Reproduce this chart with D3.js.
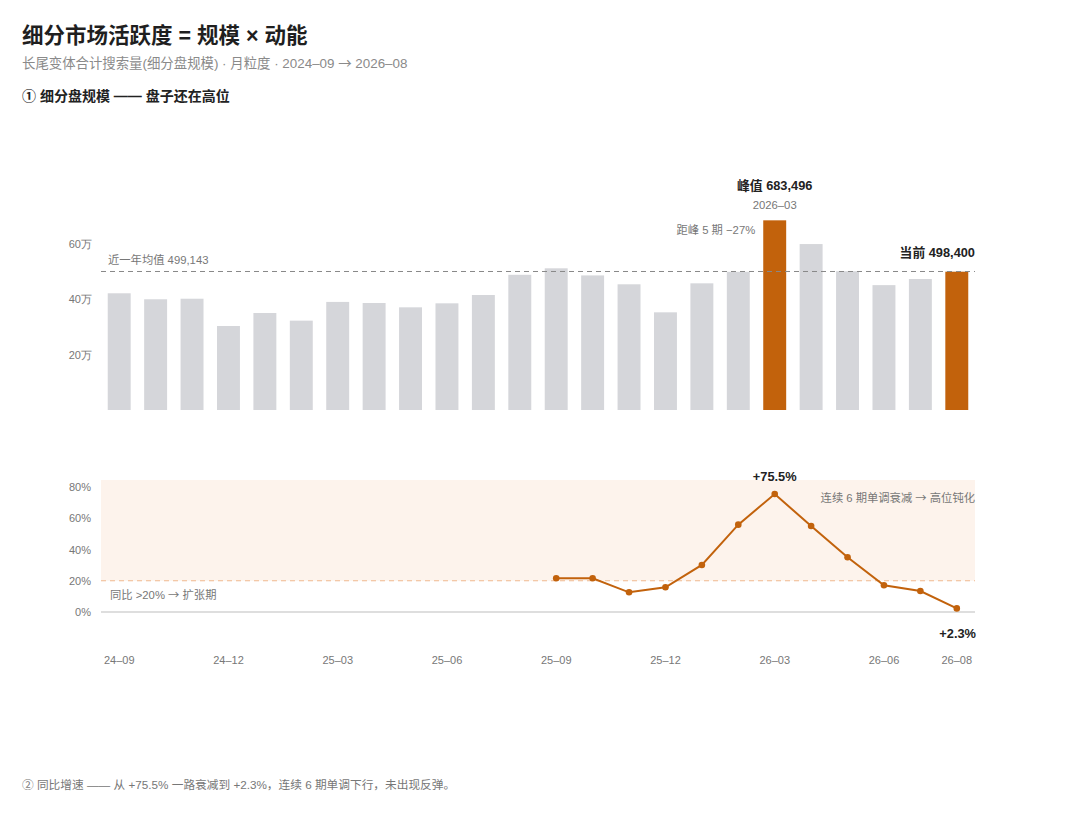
<!DOCTYPE html>
<html lang="zh">
<head>
<meta charset="UTF-8">
<title>细分市场活跃度</title>
<script src="https://d3js.org/d3.v7.min.js"></script>
<style>
  body { margin: 0; background: #fff; font-family: "Liberation Sans", "Noto Sans CJK SC", sans-serif; }
  svg { display: block; }
  .title { font-size: 21.5px; font-weight: 700; fill: #1f1f1f; }
  .sub { font-size: 13.4px; fill: #8a8a8a; }
  .sec { font-size: 14px; font-weight: 700; fill: #222; }
  .tick text { font-size: 11px; fill: #777; }
  .note { font-size: 11.3px; fill: #777; }
  .foot { font-size: 11.7px; fill: #777; }
  .strong { font-size: 12.8px; font-weight: 700; fill: #222; }
  .arr { font-family: "Noto Sans CJK SC", sans-serif; }
</style>
</head>
<body>
<script>
const months = ["24-09","24-10","24-11","24-12","25-01","25-02","25-03","25-04","25-05","25-06","25-07","25-08",
                "25-09","25-10","25-11","25-12","26-01","26-02","26-03","26-04","26-05","26-06","26-07","26-08"];
const volume = [420600, 399000, 401000, 302700, 349600, 322000, 389500, 385600, 370000, 384400, 414400, 487200,
                510600, 485000, 453000, 352000, 456500, 498000, 683496, 598000, 500000, 450000, 472000, 498400];
// 同比增速（%），仅后 12 期有值
const yoy = [null, null, null, null, null, null, null, null, null, null, null, null,
             21.6, 21.6, 12.6, 15.8, 30.1, 55.9, 75.5, 55.0, 35.0, 17.1, 13.4, 2.3];
const volTicks = [200000, 400000, 600000];
const yoyTicks = [0, 20, 40, 60, 80];
const monthTicks = ["24-09","24-12","25-03","25-06","25-09","25-12","26-03","26-06","26-08"];
const avgValue = 499143;
const highlight = ["26-03", "26-08"];

const W = 1080, H = 814;
const grey = "#d5d6da", orange = "#c2620c";

const svg = d3.select("body").append("svg").attr("width", W).attr("height", H);

// arrows drawn with the CJK font so they come out long like the original
const withArrow = s => s.split("→").join('<tspan class="arr">→</tspan>');

svg.append("text").attr("class", "title").attr("x", 22).attr("y", 43).text("细分市场活跃度 = 规模 × 动能");
svg.append("text").attr("class", "sub").attr("x", 22).attr("y", 68).html(withArrow("长尾变体合计搜索量(细分盘规模) · 月粒度 · 2024–09 → 2026–08"));
svg.append("text").attr("class", "sec").attr("x", 22).attr("y", 101).text("① 细分盘规模 —— 盘子还在高位");

const x = d3.scaleBand().domain(months).range([101, 975]).paddingInner(0.37).paddingOuter(0.185);
const cx = m => x(m) + x.bandwidth() / 2;

// ---- bars ----
const yV = d3.scaleLinear().domain([0, 200000]).range([410, 354.5]);

svg.append("g").attr("transform", "translate(92,0)")
  .call(d3.axisLeft(yV).tickValues(volTicks).tickSize(0).tickPadding(0).tickFormat(d => d / 10000 + "万"))
  .call(g => g.select(".domain").remove());

svg.append("g").selectAll("rect").data(months).join("rect")
  .attr("x", d => x(d)).attr("width", x.bandwidth())
  .attr("y", (d, i) => yV(volume[i])).attr("height", (d, i) => yV(0) - yV(volume[i]))
  .attr("fill", d => highlight.includes(d) ? orange : grey);

svg.append("line").attr("x1", 101).attr("x2", 975).attr("y1", yV(avgValue)).attr("y2", yV(avgValue))
  .attr("stroke", "#888").attr("stroke-width", 1).attr("stroke-dasharray", "5,4");
svg.append("text").attr("class", "note").attr("x", 108).attr("y", yV(avgValue) - 7)
  .text("近一年均值 " + d3.format(",")(avgValue));

const peakI = volume.indexOf(d3.max(volume));
const lastI = volume.length - 1;
svg.append("text").attr("class", "strong").attr("text-anchor", "middle")
  .attr("x", cx(months[peakI])).attr("y", yV(volume[peakI]) - 30).text("峰值 " + d3.format(",")(volume[peakI]));
svg.append("text").attr("class", "note").attr("text-anchor", "middle")
  .attr("x", cx(months[peakI])).attr("y", yV(volume[peakI]) - 11).text("20" + months[peakI].replace("-", "–"));
svg.append("text").attr("class", "note").attr("text-anchor", "end")
  .attr("x", x(months[peakI]) - 8).attr("y", yV(volume[peakI]) + 14)
  .text("距峰 " + (lastI - peakI) + " 期 −" + Math.round((1 - volume[lastI] / volume[peakI]) * 100) + "%");
svg.append("text").attr("class", "strong").attr("text-anchor", "end")
  .attr("x", 975).attr("y", yV(volume[lastI]) - 15).text("当前 " + d3.format(",")(volume[lastI]));

// ---- YoY line ----
const yY = d3.scaleLinear().domain([0, 80]).range([612, 487]);

svg.append("rect").attr("x", 101).attr("width", 874)
  .attr("y", yY(84.5)).attr("height", yY(20) - yY(84.5)).attr("fill", "#fdf3ec");

svg.append("g").attr("transform", "translate(91,0)")
  .call(d3.axisLeft(yY).tickValues(yoyTicks).tickSize(0).tickPadding(0).tickFormat(d => d + "%"))
  .call(g => g.select(".domain").remove());

svg.append("line").attr("x1", 101).attr("x2", 975).attr("y1", yY(0)).attr("y2", yY(0))
  .attr("stroke", "#bdbdbd").attr("stroke-width", 1.2);
svg.append("line").attr("x1", 101).attr("x2", 975).attr("y1", yY(20)).attr("y2", yY(20))
  .attr("stroke", "#efb98f").attr("stroke-width", 1).attr("stroke-dasharray", "5,4");
svg.append("text").attr("class", "note").attr("x", 110).attr("y", yY(20) + 18).html(withArrow("同比 >20% → 扩张期"));

const pts = months.map((m, i) => ({ m, v: yoy[i] })).filter(d => d.v != null);
svg.append("path").datum(pts)
  .attr("fill", "none").attr("stroke", orange).attr("stroke-width", 2)
  .attr("d", d3.line().x(d => cx(d.m)).y(d => yY(d.v)));
svg.append("g").selectAll("circle").data(pts).join("circle")
  .attr("cx", d => cx(d.m)).attr("cy", d => yY(d.v)).attr("r", 3.3).attr("fill", orange);

const yPeak = pts.reduce((a, b) => b.v > a.v ? b : a);
const yLast = pts[pts.length - 1];
svg.append("text").attr("class", "strong").attr("text-anchor", "middle")
  .attr("x", cx(yPeak.m)).attr("y", yY(yPeak.v) - 13).text("+" + yPeak.v.toFixed(1) + "%");
svg.append("text").attr("class", "note").attr("text-anchor", "end")
  .attr("x", 975).attr("y", yY(yPeak.v) + 8).html(withArrow("连续 6 期单调衰减 → 高位钝化"));
svg.append("text").attr("class", "strong").attr("text-anchor", "end")
  .attr("x", 976).attr("y", yY(yLast.v) + 30).text("+" + yLast.v.toFixed(1) + "%");

svg.append("g").attr("transform", "translate(0,656)")
  .call(d3.axisBottom(x).tickValues(monthTicks).tickSize(0).tickPadding(0))
  .call(g => g.select(".domain").remove())
  .call(g => g.selectAll(".tick text").attr("dy", "0.71em").text(d => d.replace("-", "–")));

svg.append("text").attr("class", "foot").attr("x", 22).attr("y", 789)
  .text("② 同比增速 —— 从 +75.5% 一路衰减到 +2.3%，连续 6 期单调下行，未出现反弹。");
</script>
</body>
</html>
